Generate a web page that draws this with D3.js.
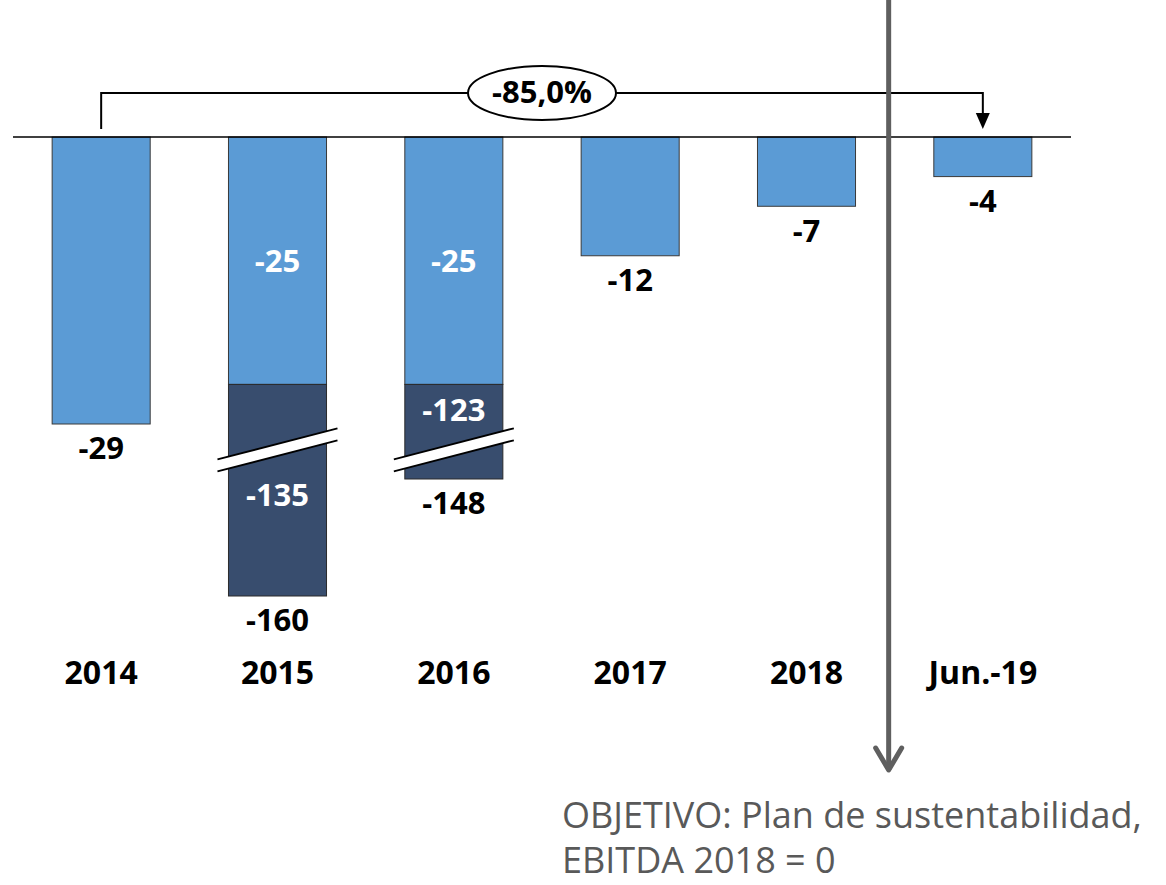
<!DOCTYPE html>
<html>
<head>
<meta charset="utf-8">
<script src="https://cdn.jsdelivr.net/npm/d3@7"></script>
<style>
  body { margin: 0; background: #fff; }
  svg text { font-family: "Open Sans", sans-serif; }
</style>
</head>
<body>
<div id="container"></div>
<script>
/* DATA */
const categories = ["2014", "2015", "2016", "2017", "2018", "Jun.-19"];
const lightValues = [-29, -25, -25, -12, -7, -4];   // light blue part
const darkValues = [0, -135, -123, 0, 0, 0];         // dark part (broken)
const totals = [-29, -160, -148, -12, -7, -4];
const changeLabel = "-85,0%";
const noteLines = ["OBJETIVO: Plan de sustentabilidad,", "EBITDA 2018 = 0"];

/* CONSTANTS */
const width = 1166, height = 885;
const lightColor = "#5B9BD5", darkColor = "#384D6E";
const breakAt = -85; // where the axis is cut
const labelSize = 31;

const svg = d3.select("#container").append("svg")
  .attr("width", width).attr("height", height);

/* SCALES */
const x = d3.scaleBand()
  .domain(categories)
  .range([13, 1071])
  .paddingInner(0.444)
  .paddingOuter(0.222);

// broken axis: piecewise linear
const y = d3.scaleLinear()
  .domain([0, -29, -148, -160])
  .range([137, 424, 479, 596]);

const data = categories.map((c, i) => ({
  cat: c, light: lightValues[i], dark: darkValues[i], total: totals[i]
}));

// light segments
svg.selectAll("rect.light")
  .data(data)
  .join("rect")
    .attr("class", "light")
    .attr("x", d => x(d.cat))
    .attr("y", y(0))
    .attr("width", x.bandwidth())
    .attr("height", d => y(d.light) - y(0))
    .attr("fill", lightColor)
    .attr("stroke", "#3a3a3a")
    .attr("stroke-width", 1);

// dark segments
const darkData = data.filter(d => d.dark < 0);
svg.selectAll("rect.dark")
  .data(darkData)
  .join("rect")
    .attr("class", "dark")
    .attr("x", d => x(d.cat))
    .attr("y", d => y(d.light))
    .attr("width", x.bandwidth())
    .attr("height", d => y(d.total) - y(d.light))
    .attr("fill", darkColor)
    .attr("stroke", "#2a2a2a")
    .attr("stroke-width", 1);

// break marks
const halfW = 60, slope = 0.26, gap = 12;
const breaks = svg.selectAll("g.brk")
  .data(darkData)
  .join("g").attr("class", "brk");
breaks.append("path")
  .attr("d", d => {
    const cx = x(d.cat) + x.bandwidth() / 2, cy = y(breakAt);
    const x0 = cx - halfW, x1 = cx + halfW;
    const yA = cy - gap / 2, yB = cy + gap / 2;
    return `M${x0},${yA + halfW * slope} L${x1},${yA - halfW * slope} L${x1},${yB - halfW * slope} L${x0},${yB + halfW * slope} Z`;
  })
  .attr("fill", "#fff").attr("stroke", "none");
[-1, 1].forEach(s => {
  breaks.append("line")
    .attr("x1", d => x(d.cat) + x.bandwidth() / 2 - halfW)
    .attr("x2", d => x(d.cat) + x.bandwidth() / 2 + halfW)
    .attr("y1", d => y(breakAt) + s * gap / 2 + halfW * slope)
    .attr("y2", d => y(breakAt) + s * gap / 2 - halfW * slope)
    .attr("stroke", "#000").attr("stroke-width", 1.8);
});

// baseline
svg.append("line")
  .attr("x1", x.range()[0]).attr("x2", x.range()[1])
  .attr("y1", y(0)).attr("y2", y(0))
  .attr("stroke", "#000").attr("stroke-width", 1.5);

// labels inside light part (stacked bars only)
svg.selectAll("text.lightlab")
  .data(darkData)
  .join("text")
    .attr("x", d => x(d.cat) + x.bandwidth() / 2)
    .attr("y", d => (y(0) + y(d.light)) / 2 + 3)
    .attr("text-anchor", "middle").attr("dominant-baseline", "middle")
    .attr("fill", "#fff").attr("font-weight", "bold").attr("font-size", labelSize)
    .text(d => d.light);

// labels inside dark part
svg.selectAll("text.darklab")
  .data(darkData)
  .join("text")
    .attr("x", d => x(d.cat) + x.bandwidth() / 2)
    .attr("y", d => {
      const below = y(d.total) - y(breakAt);
      return below > 100 ? y(breakAt) + 48 : (y(d.light) + y(breakAt) - gap) / 2 + 2;
    })
    .attr("text-anchor", "middle").attr("dominant-baseline", "middle")
    .attr("fill", "#fff").attr("font-weight", "bold").attr("font-size", labelSize)
    .text(d => d.dark);

// total labels below bars
svg.selectAll("text.total")
  .data(data)
  .join("text")
    .attr("x", d => x(d.cat) + x.bandwidth() / 2)
    .attr("y", d => y(d.total) + 27)
    .attr("text-anchor", "middle").attr("dominant-baseline", "middle")
    .attr("fill", "#000").attr("font-weight", "bold").attr("font-size", labelSize)
    .text(d => d.total);

// category axis
const xAxis = svg.append("g")
  .attr("transform", "translate(0,655)")
  .call(d3.axisBottom(x).tickSize(0).tickPadding(0));
xAxis.select(".domain").remove();
xAxis.selectAll("text")
  .attr("dy", 0).attr("y", 20)
  .attr("dominant-baseline", "middle")
  .attr("fill", "#000")
  .style("font-family", "'Open Sans', sans-serif")
  .style("font-weight", "bold")
  .style("font-size", "32px");

// bracket with arrow from 2014 to Jun.-19
const xa = x(categories[0]) + x.bandwidth() / 2;
const xb = x(categories[categories.length - 1]) + x.bandwidth() / 2;
const yTop = 93;
svg.append("path")
  .attr("d", `M${xa},${y(0) - 8} V${yTop} H${xb} V${y(0) - 22}`)
  .attr("fill", "none").attr("stroke", "#000").attr("stroke-width", 2);
svg.append("path")
  .attr("d", `M${xb - 7},${y(0) - 24} L${xb + 7},${y(0) - 24} L${xb},${y(0) - 8} Z`)
  .attr("fill", "#000");

const ex = (xa + xb) / 2;
svg.append("ellipse")
  .attr("cx", ex).attr("cy", yTop)
  .attr("rx", 74).attr("ry", 27)
  .attr("fill", "#fff").attr("stroke", "#000").attr("stroke-width", 2);
svg.append("text")
  .attr("x", ex).attr("y", yTop + 2)
  .attr("text-anchor", "middle").attr("dominant-baseline", "middle")
  .attr("font-weight", "bold").attr("font-size", 31)
  .text(changeLabel);

// vertical grey arrow between 2018 and Jun.-19
const xv = (x("2018") + x.bandwidth() + x("Jun.-19")) / 2 - 6;
svg.append("line")
  .attr("x1", xv).attr("x2", xv)
  .attr("y1", 0).attr("y2", 770)
  .attr("stroke", "#5f5f5f").attr("stroke-width", 5);
svg.append("path")
  .attr("d", `M${xv - 13},${748} L${xv},${770} L${xv + 13},${748}`)
  .attr("fill", "none").attr("stroke", "#5f5f5f").attr("stroke-width", 5)
  .attr("stroke-linecap", "round").attr("stroke-linejoin", "round");

// note text
svg.selectAll("text.note")
  .data(noteLines)
  .join("text")
    .attr("x", 562)
    .attr("y", (d, i) => 828 + i * 45)
    .attr("fill", "#595959")
    .attr("font-size", 36)
    .text(d => d);
</script>
</body>
</html>
